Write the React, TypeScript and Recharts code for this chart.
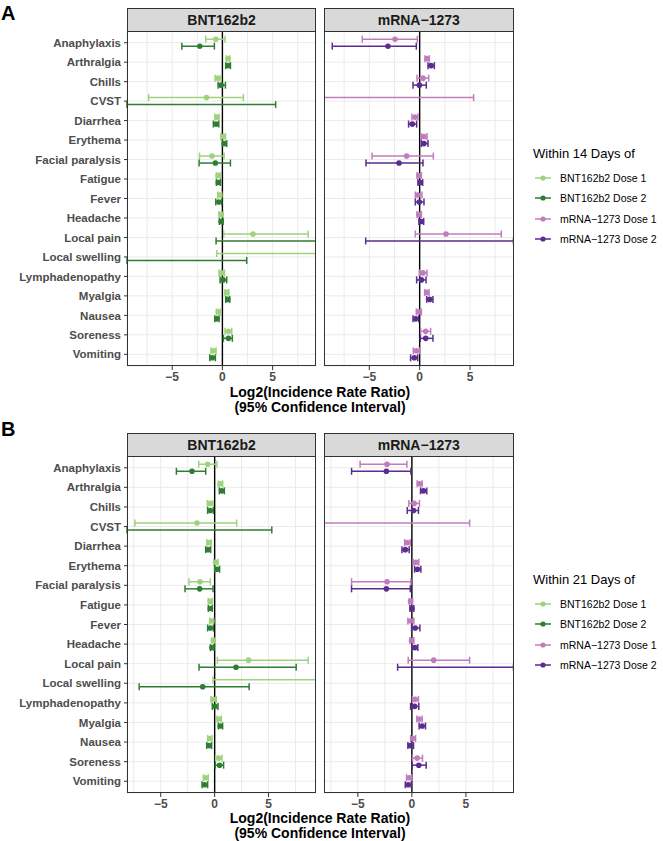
import React from "react";
import {
  ScatterChart,
  Scatter,
  XAxis,
  YAxis,
  CartesianGrid,
  ErrorBar,
  ReferenceLine,
} from "recharts";

const categories = [
  "Anaphylaxis",
  "Arthralgia",
  "Chills",
  "CVST",
  "Diarrhea",
  "Erythema",
  "Facial paralysis",
  "Fatigue",
  "Fever",
  "Headache",
  "Local pain",
  "Local swelling",
  "Lymphadenopathy",
  "Myalgia",
  "Nausea",
  "Soreness",
  "Vomiting",
];

const xTicks = [-7.5, -5, -2.5, 0, 2.5, 5, 7.5];
const xLabelTicks = [-5, 0, 5];

const seriesNames = ["BNT162b2 Dose 1", "BNT162b2 Dose 2", "mRNA\u22121273 Dose 1", "mRNA\u22121273 Dose 2"];
const seriesColors = ["#9fd27c", "#2f7d32", "#c07cbd", "#5a2d8e"];

// panel A: within 14 days
const aBntD1Est = [-0.66, 0.56, -0.43, -1.59, -0.56, 0.07, -1.03, -0.43, -0.26, -0.13, 3.05, null, -0.1, 0.43, -0.4, 0.6, -0.9];
const aBntD1Lo = [-1.66, 0.4, -0.73, -7.35, -0.76, -0.17, -2.28, -0.6, -0.46, -0.33, 0.13, -0.56, -0.33, 0.26, -0.6, 0.26, -1.13];
const aBntD1Hi = [0.26, 0.73, -0.13, 2.09, -0.33, 0.3, 0.17, -0.23, -0.07, 0.07, 8.54, 9.3, 0.2, 0.63, -0.2, 0.93, -0.63];
const aBntD2Est = [-2.25, 0.56, -0.13, null, -0.63, 0.2, -0.7, -0.4, -0.36, -0.13, null, null, 0.07, 0.53, -0.56, 0.6, -1.0];
const aBntD2Lo = [-4.04, 0.33, -0.43, -9.5, -0.9, 0.0, -2.32, -0.6, -0.66, -0.3, -0.63, -9.5, -0.23, 0.33, -0.76, 0.1, -1.26];
const aBntD2Hi = [-0.8, 0.8, 0.3, 5.3, -0.36, 0.43, 0.8, -0.2, -0.07, 0.07, 9.3, 2.42, 0.43, 0.73, -0.33, 0.99, -0.7];

const aMrnaD1Est = [-2.45, 0.73, 0.33, null, -0.46, 0.43, -1.29, -0.07, -0.2, -0.07, 2.62, null, 0.33, 0.7, -0.1, 0.6, -0.33];
const aMrnaD1Lo = [-5.7, 0.53, -0.26, -9.5, -0.76, 0.17, -4.73, -0.26, -0.43, -0.26, -0.43, null, -0.03, 0.5, -0.33, 0.1, -0.63];
const aMrnaD1Hi = [-0.23, 0.96, 0.9, 5.36, -0.17, 0.73, 1.36, 0.17, 0.23, 0.17, 8.11, null, 0.73, 0.93, 0.17, 1.09, -0.03];
const aMrnaD2Est = [-3.15, 1.13, -0.03, null, -0.73, 0.43, -2.05, 0.07, -0.03, 0.17, null, null, 0.17, 1.0, -0.4, 0.6, -0.53];
const aMrnaD2Lo = [-8.68, 0.83, -0.66, null, -1.1, 0.17, -5.33, -0.17, -0.43, -0.07, -5.36, null, -0.3, 0.7, -0.66, 0.07, -0.9];
const aMrnaD2Hi = [-0.33, 1.46, 0.66, null, -0.3, 0.83, 0.33, 0.3, 0.43, 0.4, 9.32, null, 0.63, 1.32, -0.1, 1.32, -0.2];

// panel B: within 21 days
const bBntD1Est = [-0.65, 0.52, -0.43, -1.64, -0.52, 0.09, -1.36, -0.4, -0.28, -0.12, 3.15, null, -0.12, 0.4, -0.46, 0.37, -0.83];
const bBntD1Lo = [-1.48, 0.34, -0.68, -7.4, -0.71, -0.09, -2.38, -0.59, -0.46, -0.28, 0.25, -0.15, -0.34, 0.22, -0.65, 0.09, -1.05];
const bBntD1Hi = [0.22, 0.74, -0.15, 2.04, -0.31, 0.31, -0.4, -0.22, -0.09, 0.06, 8.67, 9.4, 0.15, 0.62, -0.25, 0.68, -0.59];
const bBntD2Est = [-2.1, 0.65, -0.4, null, -0.62, 0.22, -1.39, -0.4, -0.4, -0.25, 1.98, -1.11, 0.03, 0.52, -0.52, 0.46, -0.93];
const bBntD2Lo = [-3.55, 0.43, -0.65, -8.13, -0.83, 0.0, -2.75, -0.59, -0.65, -0.4, -1.45, -7.0, -0.22, 0.34, -0.74, 0.06, -1.17];
const bBntD2Hi = [-0.83, 0.9, -0.12, 5.3, -0.37, 0.46, -0.15, -0.22, -0.12, -0.06, 7.56, 3.2, 0.31, 0.74, -0.28, 0.83, -0.65];

const bMrnaD1Est = [-2.3, 0.7, 0.21, null, -0.43, 0.37, -2.3, -0.12, -0.12, -0.03, 2.02, null, 0.31, 0.67, 0.09, 0.49, -0.25];
const bMrnaD1Lo = [-4.79, 0.49, -0.28, -8.13, -0.67, 0.12, -5.58, -0.25, -0.37, -0.18, -0.34, null, 0.06, 0.46, -0.12, 0.06, -0.49];
const bMrnaD1Hi = [-0.46, 0.95, 0.7, 5.34, -0.15, 0.64, -0.09, 0.06, 0.18, 0.18, 5.34, null, 0.61, 0.95, 0.34, 0.98, 0.0];
const bMrnaD2Est = [-2.36, 1.07, 0.15, null, -0.61, 0.52, -2.36, 0.0, 0.31, 0.28, null, null, 0.25, 0.95, -0.15, 0.64, -0.34];
const bMrnaD2Lo = [-5.58, 0.8, -0.43, null, -0.92, 0.25, -5.58, -0.18, -0.03, 0.0, -1.32, null, -0.12, 0.67, -0.37, 0.03, -0.61];
const bMrnaD2Hi = [-0.09, 1.38, 0.61, null, -0.25, 0.83, -0.15, 0.18, 0.74, 0.55, 9.4, null, 0.64, 1.26, 0.15, 1.32, -0.06];

type Num = number | null;
type Series = { est: Num[]; lo: Num[]; hi: Num[]; color: string };

const DODGE = 0.18;
const FONT = "'Liberation Sans', Arial, Helvetica, sans-serif";

const ciRows = (s: Series, off: number) =>
  s.lo
    .map((l, i) => {
      const h = s.hi[i];
      if (l == null || h == null) return null;
      return { x: (l + h) / 2, y: i + 1 + off, err: (h - l) / 2 };
    })
    .filter((r) => r != null);

const pointRows = (s: Series, off: number) =>
  s.est
    .map((e, i) => (e == null ? null : { x: e, y: i + 1 + off }))
    .filter((r) => r != null);

const fmtTick = (v: number) => (v < 0 ? "\u2212" + Math.abs(v) : String(v));

const XTick = (props: any) => {
  const { x, y, payload } = props;
  if (!xLabelTicks.includes(payload.value)) return <g />;
  return (
    <g>
      <line x1={x} x2={x} y1={y - 6} y2={y - 2} stroke="#333" />
      <text x={x} y={y} dy="0.72em" textAnchor="middle" fontSize={12} fontWeight="bold" fill="#4d4d4d">
        {fmtTick(payload.value)}
      </text>
    </g>
  );
};

const YTick = (props: any) => {
  const { x, y, payload } = props;
  return (
    <text x={x} y={y} dy="0.36em" textAnchor="end" fontSize={11.5} fontWeight="bold" fill="#4d4d4d">
      {categories[payload.value - 1]}
    </text>
  );
};

const Facet = (props: {
  title: string;
  s1: Series;
  s2: Series;
  domain: [number, number];
  plotLeft: number;
  plotTop: number;
  plotW: number;
  plotH: number;
  showY: boolean;
}) => {
  const { title, s1, s2, domain, plotLeft, plotTop, plotW, plotH, showY } = props;
  const yW = showY ? 127 : 0;
  const noShape = () => <g />;
  const dot = (color: string) => (p: any) => <circle cx={p.cx} cy={p.cy} r={2.8} fill={color} />;
  return (
    <>
      <div
        style={{
          position: "absolute",
          left: plotLeft,
          top: plotTop - 23,
          width: plotW,
          height: 24,
          boxSizing: "border-box",
          background: "#d9d9d9",
          border: "1px solid #333",
          textAlign: "center",
          fontWeight: "bold",
          fontSize: 14,
          lineHeight: "22px",
          color: "#1a1a1a",
        }}
      >
        {title}
      </div>
      <div style={{ position: "absolute", left: plotLeft - yW, top: plotTop }}>
        <ScatterChart width={yW + plotW} height={plotH + 30} margin={{ top: 0, right: 0, bottom: 0, left: 0 }}>
          <CartesianGrid stroke="#ebebeb" strokeWidth={1} />
          <XAxis
            type="number"
            dataKey="x"
            domain={domain}
            allowDataOverflow
            ticks={xTicks}
            interval={0}
            height={30}
            axisLine={false}
            tickLine={false}
            tickSize={4}
            tickMargin={2}
            tick={<XTick />}
          />
          <YAxis
            type="number"
            dataKey="y"
            domain={[0.4, 17.6]}
            allowDataOverflow
            reversed
            ticks={categories.map((_, i) => i + 1)}
            interval={0}
            width={yW}
            hide={!showY}
            axisLine={false}
            tickSize={3}
            tickMargin={3}
            tickLine={{ stroke: "#333" }}
            tick={<YTick />}
          />
          <ReferenceLine x={0} stroke="#000" strokeWidth={1.4} />
          {[s1, s2].map((s, k) => (
            <Scatter
              key={"ci" + k}
              data={ciRows(s, k === 0 ? -DODGE : DODGE)}
              shape={noShape}
              isAnimationActive={false}
            >
              <ErrorBar
                dataKey="err"
                direction="x"
                width={3.5}
                stroke={s.color}
                strokeWidth={1.5}
                isAnimationActive={false}
              />
            </Scatter>
          ))}
          {[s1, s2].map((s, k) => (
            <Scatter
              key={"pt" + k}
              data={pointRows(s, k === 0 ? -DODGE : DODGE)}
              shape={dot(s.color)}
              isAnimationActive={false}
            />
          ))}
        </ScatterChart>
      </div>
      <div
        style={{
          position: "absolute",
          left: plotLeft,
          top: plotTop,
          width: plotW,
          height: plotH,
          boxSizing: "border-box",
          border: "1px solid #333",
          pointerEvents: "none",
        }}
      />
    </>
  );
};

const Legend = (props: { title: string; top: number }) => (
  <div style={{ position: "absolute", left: 533, top: props.top }}>
    <div style={{ fontSize: 13, color: "#000", height: 22, lineHeight: "16px" }}>{props.title}</div>
    {seriesNames.map((n, i) => (
      <div key={n} style={{ display: "flex", alignItems: "center", height: 20.3 }}>
        <svg width={24} height={12} style={{ marginLeft: 1 }}>
          <line x1={1} x2={17} y1={6} y2={6} stroke={seriesColors[i]} strokeWidth={1.5} />
          <circle cx={9} cy={6} r={2.6} fill={seriesColors[i]} />
        </svg>
        <span style={{ fontSize: 10.5, color: "#000", marginLeft: 2 }}>{n}</span>
      </div>
    ))}
  </div>
);

const AxisTitle = (props: { top: number }) => (
  <div
    style={{
      position: "absolute",
      left: 220,
      width: 200,
      top: props.top,
      textAlign: "center",
      fontWeight: "bold",
      fontSize: 14,
      lineHeight: "15px",
      color: "#000",
    }}
  >
    Log2(Incidence Rate Ratio)
    <br />
    (95% Confidence Interval)
  </div>
);

const mk = (est: Num[], lo: Num[], hi: Num[], color: string): Series => ({ est, lo, hi, color });

export default function App() {
  const domA: [number, number] = [-9.5, 9.32];
  const domB: [number, number] = [-8.13, 9.4];
  return (
    <div
      style={{
        position: "absolute",
        left: 0,
        top: 0,
        width: 663,
        height: 841,
        background: "#fff",
        fontFamily: FONT,
        overflow: "hidden",
      }}
    >
      <div style={{ position: "absolute", left: 1, top: 2, fontSize: 20, fontWeight: "bold" }}>A</div>
      <Facet
        title="BNT162b2"
        s1={mk(aBntD1Est, aBntD1Lo, aBntD1Hi, seriesColors[0])}
        s2={mk(aBntD2Est, aBntD2Lo, aBntD2Hi, seriesColors[1])}
        domain={domA}
        plotLeft={127}
        plotTop={31}
        plotW={189}
        plotH={335}
        showY
      />
      <Facet
        title={"mRNA\u22121273"}
        s1={mk(aMrnaD1Est, aMrnaD1Lo, aMrnaD1Hi, seriesColors[2])}
        s2={mk(aMrnaD2Est, aMrnaD2Lo, aMrnaD2Hi, seriesColors[3])}
        domain={domA}
        plotLeft={324}
        plotTop={31}
        plotW={189.5}
        plotH={335}
        showY={false}
      />
      <AxisTitle top={385} />
      <Legend title="Within 14 Days of" top={146} />

      <div style={{ position: "absolute", left: 1, top: 418, fontSize: 20, fontWeight: "bold" }}>B</div>
      <Facet
        title="BNT162b2"
        s1={mk(bBntD1Est, bBntD1Lo, bBntD1Hi, seriesColors[0])}
        s2={mk(bBntD2Est, bBntD2Lo, bBntD2Hi, seriesColors[1])}
        domain={domB}
        plotLeft={127}
        plotTop={456}
        plotW={189}
        plotH={337}
        showY
      />
      <Facet
        title={"mRNA\u22121273"}
        s1={mk(bMrnaD1Est, bMrnaD1Lo, bMrnaD1Hi, seriesColors[2])}
        s2={mk(bMrnaD2Est, bMrnaD2Lo, bMrnaD2Hi, seriesColors[3])}
        domain={domB}
        plotLeft={324}
        plotTop={456}
        plotW={189.5}
        plotH={337}
        showY={false}
      />
      <AxisTitle top={811} />
      <Legend title="Within 21 Days of" top={572} />
    </div>
  );
}
